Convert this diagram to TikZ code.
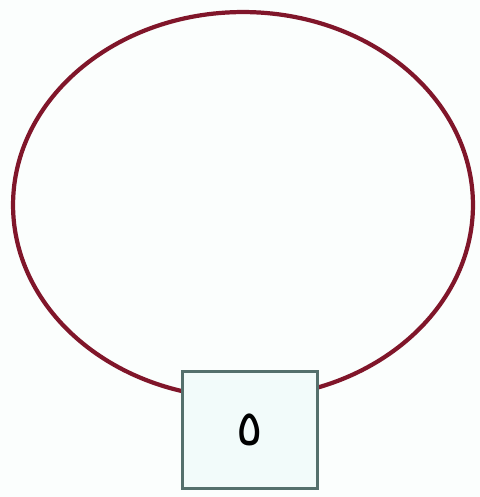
\documentclass[tikz,border=0pt]{standalone}
\usepackage{fontspec}
\usepackage{xcolor}
\usetikzlibrary{positioning}
\TeXXeTstate=1
\newfontfamily\arabicfont[Script=Arabic]{DejaVu Sans}
\definecolor{LoopRed}{RGB}{128,22,42}
\definecolor{BoxEdge}{RGB}{84,112,108}
\definecolor{BoxFill}{RGB}{242,251,250}
\definecolor{PaperBg}{RGB}{251,254,253}

\begin{document}
\begin{tikzpicture}[x=0.02cm, y=-0.02cm,
		loop/.style={line width=2.4pt, LoopRed},
		digitbox/.style={draw=BoxEdge, line width=1.5pt, fill=BoxFill,
			minimum width=2.7cm, minimum height=2.34cm, inner sep=0pt}]
	\fill[PaperBg] (0,0) rectangle (480,497);
	\useasboundingbox (0,0) rectangle (480,497);
	
	% the wire loop
	\draw[loop] (243,205) ellipse [x radius=4.6cm, y radius=3.86cm];
	
	% the box on the loop
	\node[digitbox] (box) at (250,430) {\fontsize{28}{32}\selectfont\arabicfont\beginR ٥\endR};
\end{tikzpicture}
\end{document}
